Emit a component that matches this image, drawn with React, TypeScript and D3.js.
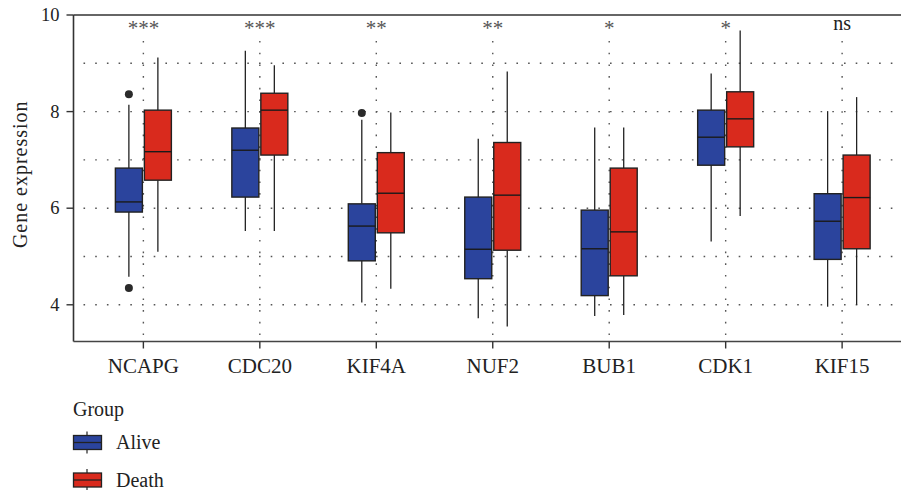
import * as React from "react";
import * as d3 from "d3";

const genes = ["NCAPG", "CDC20", "KIF4A", "NUF2", "BUB1", "CDK1", "KIF15"];
const sigLabels = ["***", "***", "**", "**", "*", "*", "ns"];
const groups = ["Alive", "Death"];
const groupColors = ["#2b449d", "#d92a1d"];

// box stats per gene: lower whisker, q1, median, q3, upper whisker
const aliveLo = [4.58, 5.53, 4.05, 3.72, 3.77, 5.31, 3.96];
const aliveQ1 = [5.92, 6.23, 4.91, 4.54, 4.19, 6.89, 4.94];
const aliveMed = [6.13, 7.2, 5.63, 5.15, 5.16, 7.47, 5.73];
const aliveQ3 = [6.83, 7.66, 6.09, 6.23, 5.96, 8.03, 6.3];
const aliveHi = [8.14, 9.26, 7.83, 7.44, 7.67, 8.79, 8.01];

const deathLo = [5.1, 5.53, 4.33, 3.55, 3.79, 5.84, 4.0];
const deathQ1 = [6.58, 7.1, 5.49, 5.13, 4.6, 7.27, 5.16];
const deathMed = [7.17, 8.03, 6.31, 6.27, 5.51, 7.85, 6.22];
const deathQ3 = [8.03, 8.38, 7.15, 7.36, 6.83, 8.41, 7.1];
const deathHi = [9.12, 8.96, 7.98, 8.83, 7.67, 9.68, 8.3];

// outliers: [gene, group, value]
const outliers: [string, number, number][] = [
  ["NCAPG", 0, 8.36],
  ["NCAPG", 0, 4.35],
  ["KIF4A", 0, 7.97],
];

const yTicks = [4, 6, 8, 10];
const yGrid = [4, 5, 6, 7, 8, 9];

const font = "'Liberation Serif', 'Times New Roman', serif";

export default function App() {
  const W = 901, H = 490;
  const left = 73.5, top = 15, bottom = 341.5;
  const x = d3.scalePoint<string>().domain(genes).range([left, 912]).padding(0.6);
  const y = d3.scaleLinear().domain([3.24, 10]).range([bottom, top]);
  const boxW = 27;
  const off = 14.5;

  const stats = [
    { lo: aliveLo, q1: aliveQ1, med: aliveMed, q3: aliveQ3, hi: aliveHi },
    { lo: deathLo, q1: deathQ1, med: deathMed, q3: deathQ3, hi: deathHi },
  ];

  const dotted = "1.6 10.1";

  return (
    <svg width={W} height={H} style={{ position: "absolute", left: 0, top: 0 }} fontFamily={font}>
      <rect width={W} height={H} fill="#fff" />
      {/* grid */}
      {yGrid.map((v) => (
        <line key={"gy" + v} x1={left + 10} x2={W} y1={y(v)} y2={y(v)}
          stroke="#555" strokeWidth={1.4} strokeDasharray={dotted} />
      ))}
      {genes.map((g) => (
        <line key={"gx" + g} x1={x(g)} x2={x(g)} y1={top + 26} y2={bottom}
          stroke="#555" strokeWidth={1.4} strokeDasharray={dotted} />
      ))}
      {/* boxes */}
      {genes.map((g, i) =>
        stats.map((s, k) => {
          const cx = (x(g) as number) + (k === 0 ? -off : off);
          return (
            <g key={g + k}>
              <line x1={cx} x2={cx} y1={y(s.hi[i])} y2={y(s.q3[i])} stroke="#222" strokeWidth={1.3} />
              <line x1={cx} x2={cx} y1={y(s.q1[i])} y2={y(s.lo[i])} stroke="#222" strokeWidth={1.3} />
              <rect x={cx - boxW / 2} y={y(s.q3[i])} width={boxW} height={y(s.q1[i]) - y(s.q3[i])}
                fill={groupColors[k]} stroke="#222" strokeWidth={1.4} />
              <line x1={cx - boxW / 2} x2={cx + boxW / 2} y1={y(s.med[i])} y2={y(s.med[i])}
                stroke="#1a1a1a" strokeWidth={1.4} />
            </g>
          );
        })
      )}
      {outliers.map(([g, k, v], j) => (
        <circle key={"o" + j} cx={(x(g) as number) + (k === 0 ? -off : off)} cy={y(v)} r={4} fill="#2a2a2a" />
      ))}
      {/* significance */}
      {genes.map((g, i) => (
        <text key={"s" + g} x={x(g)} y={top + (sigLabels[i] === "ns" ? 15 : 20)} textAnchor="middle"
          fontSize={sigLabels[i] === "ns" ? 20 : 21} fill={sigLabels[i] === "ns" ? "#222" : "#555"}>
          {sigLabels[i]}
        </text>
      ))}
      {/* axes */}
      <line x1={left} x2={W} y1={top} y2={top} stroke="#333" strokeWidth={1.6} />
      <line x1={left} x2={left} y1={top} y2={bottom} stroke="#333" strokeWidth={1.6} />
      <line x1={left} x2={W} y1={bottom} y2={bottom} stroke="#444" strokeWidth={1.6} />
      {yTicks.map((v) => (
        <g key={"yt" + v}>
          <line x1={left - 7} x2={left} y1={y(v)} y2={y(v)} stroke="#333" strokeWidth={1.4} />
          <text x={left - 14} y={y(v)} dy="0.34em" textAnchor="end" fontSize={18.5} fill="#222">{v}</text>
        </g>
      ))}
      {genes.map((g) => (
        <g key={"xt" + g}>
          <line x1={x(g)} x2={x(g)} y1={bottom} y2={bottom + 7} stroke="#333" strokeWidth={1.4} />
          <text x={x(g)} y={bottom + 31} textAnchor="middle" fontSize={21} fill="#222">{g}</text>
        </g>
      ))}
      <text transform={`translate(27,${(top + bottom) / 2 - 4}) rotate(-90)`} textAnchor="middle"
        fontSize={20} letterSpacing={1} fill="#222">Gene expression</text>
      {/* legend */}
      <text x={73} y={416} fontSize={20} fill="#222">Group</text>
      {groups.map((gr, k) => {
        const cy = 442.5 + k * 37.5;
        return (
          <g key={"l" + gr}>
            <line x1={87} x2={87} y1={cy - 11} y2={cy + 11} stroke="#222" strokeWidth={1.2} />
            <rect x={73.5} y={cy - 7} width={28} height={14} fill={groupColors[k]} stroke="#222" strokeWidth={1.3} />
            <line x1={73.5} x2={101.5} y1={cy} y2={cy} stroke="#222" strokeWidth={1.3} />
            <text x={116} y={cy} dy="0.34em" fontSize={20} fill="#222">{gr}</text>
          </g>
        );
      })}
    </svg>
  );
}
